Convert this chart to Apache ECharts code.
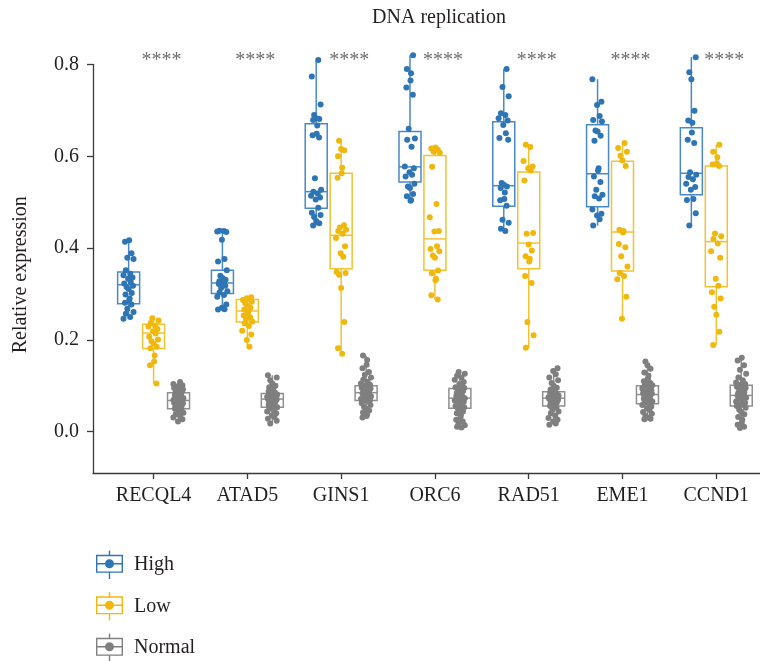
<!DOCTYPE html>
<html>
<head>
<meta charset="utf-8">
<script src="https://cdn.jsdelivr.net/npm/echarts@6/dist/echarts.min.js"></script>
<style>
  html, body { margin: 0; padding: 0; background: #ffffff; }
  #chart { width: 760px; height: 661px; }
</style>
</head>
<body>
<div id="chart"></div>
<script>
// Genes on the x axis and the three sample groups
const categories = ['RECQL4', 'ATAD5', 'GINS1', 'ORC6', 'RAD51', 'EME1', 'CCND1'];
const groups = ['High', 'Low', 'Normal'];
const significance = ['****', '****', '****', '****', '****', '****', '****'];
const yTicks = [0.0, 0.2, 0.4, 0.6, 0.8];

// Five-number summaries per gene: [min, Q1, median, Q3, max]
const highBox = [
  [0.246, 0.279, 0.320, 0.348, 0.417],
  [0.266, 0.301, 0.324, 0.352, 0.438],
  [0.449, 0.487, 0.523, 0.671, 0.810],
  [0.503, 0.544, 0.577, 0.654, 0.820],
  [0.437, 0.491, 0.536, 0.675, 0.790],
  [0.449, 0.490, 0.562, 0.669, 0.768],
  [0.447, 0.516, 0.563, 0.662, 0.816]
];
const lowBox = [
  [0.105, 0.181, 0.215, 0.234, 0.247],
  [0.185, 0.239, 0.263, 0.288, 0.293],
  [0.170, 0.355, 0.428, 0.563, 0.634],
  [0.288, 0.352, 0.420, 0.602, 0.619],
  [0.183, 0.355, 0.411, 0.566, 0.625],
  [0.246, 0.350, 0.435, 0.589, 0.629],
  [0.189, 0.316, 0.414, 0.579, 0.625]
];
const normalBox = [
  [0.022, 0.050, 0.068, 0.085, 0.108],
  [0.018, 0.053, 0.071, 0.083, 0.123],
  [0.031, 0.068, 0.085, 0.100, 0.166],
  [0.009, 0.051, 0.073, 0.094, 0.130],
  [0.015, 0.056, 0.073, 0.087, 0.138],
  [0.027, 0.061, 0.081, 0.100, 0.153],
  [0.008, 0.056, 0.079, 0.101, 0.161]
];

// Individual samples per gene
const highPoints = [
  [0.417, 0.414, 0.389, 0.379, 0.376, 0.352, 0.344, 0.341, 0.336, 0.333, 0.326, 0.323, 0.318, 0.315, 0.311, 0.302, 0.299, 0.290, 0.286, 0.281, 0.277, 0.268, 0.261, 0.257, 0.250, 0.246],
  [0.438, 0.437, 0.436, 0.435, 0.418, 0.376, 0.371, 0.352, 0.340, 0.335, 0.331, 0.328, 0.326, 0.324, 0.322, 0.318, 0.313, 0.306, 0.303, 0.298, 0.294, 0.277, 0.270, 0.267, 0.266],
  [0.810, 0.774, 0.713, 0.690, 0.683, 0.681, 0.679, 0.667, 0.649, 0.646, 0.641, 0.552, 0.527, 0.523, 0.519, 0.514, 0.510, 0.506, 0.488, 0.477, 0.472, 0.468, 0.459, 0.454, 0.449],
  [0.820, 0.790, 0.781, 0.765, 0.750, 0.734, 0.660, 0.639, 0.636, 0.621, 0.578, 0.574, 0.565, 0.560, 0.556, 0.540, 0.534, 0.531, 0.518, 0.513, 0.505, 0.503],
  [0.790, 0.751, 0.731, 0.694, 0.690, 0.683, 0.678, 0.668, 0.650, 0.640, 0.636, 0.542, 0.538, 0.534, 0.531, 0.521, 0.507, 0.504, 0.492, 0.462, 0.455, 0.442, 0.437],
  [0.768, 0.719, 0.712, 0.688, 0.679, 0.676, 0.656, 0.654, 0.645, 0.634, 0.574, 0.569, 0.556, 0.544, 0.527, 0.516, 0.513, 0.508, 0.484, 0.475, 0.471, 0.463, 0.449],
  [0.816, 0.783, 0.768, 0.699, 0.678, 0.673, 0.652, 0.636, 0.629, 0.565, 0.560, 0.555, 0.550, 0.540, 0.533, 0.527, 0.507, 0.505, 0.476, 0.449]
];
const lowPoints = [
  [0.247, 0.242, 0.237, 0.231, 0.229, 0.224, 0.219, 0.214, 0.207, 0.201, 0.197, 0.192, 0.185, 0.182, 0.166, 0.153, 0.145, 0.105],
  [0.293, 0.291, 0.289, 0.287, 0.283, 0.280, 0.275, 0.270, 0.266, 0.262, 0.257, 0.253, 0.249, 0.245, 0.240, 0.236, 0.230, 0.220, 0.212, 0.200, 0.185],
  [0.634, 0.616, 0.613, 0.600, 0.575, 0.563, 0.553, 0.450, 0.445, 0.440, 0.437, 0.431, 0.422, 0.404, 0.389, 0.381, 0.348, 0.346, 0.342, 0.313, 0.239, 0.182, 0.170],
  [0.619, 0.617, 0.614, 0.610, 0.608, 0.577, 0.496, 0.467, 0.437, 0.436, 0.404, 0.398, 0.393, 0.384, 0.379, 0.351, 0.345, 0.333, 0.330, 0.297, 0.288],
  [0.625, 0.620, 0.590, 0.578, 0.574, 0.569, 0.547, 0.433, 0.431, 0.408, 0.395, 0.382, 0.377, 0.371, 0.339, 0.324, 0.239, 0.210, 0.183],
  [0.629, 0.618, 0.610, 0.601, 0.591, 0.579, 0.440, 0.437, 0.434, 0.409, 0.402, 0.382, 0.360, 0.346, 0.339, 0.332, 0.294, 0.246],
  [0.625, 0.610, 0.598, 0.585, 0.582, 0.579, 0.432, 0.426, 0.420, 0.410, 0.393, 0.379, 0.333, 0.318, 0.304, 0.290, 0.272, 0.255, 0.218, 0.189]
];
const normalPoints = [
  [0.108, 0.104, 0.101, 0.099, 0.097, 0.095, 0.092, 0.090, 0.088, 0.086, 0.085, 0.083, 0.081, 0.079, 0.077, 0.075, 0.073, 0.071, 0.070, 0.069, 0.068, 0.067, 0.065, 0.063, 0.062, 0.060, 0.058, 0.056, 0.055, 0.053, 0.051, 0.050, 0.047, 0.044, 0.041, 0.038, 0.035, 0.031, 0.027, 0.022],
  [0.123, 0.118, 0.112, 0.105, 0.100, 0.097, 0.094, 0.091, 0.088, 0.085, 0.083, 0.081, 0.080, 0.078, 0.076, 0.075, 0.073, 0.072, 0.071, 0.070, 0.069, 0.068, 0.066, 0.064, 0.062, 0.060, 0.058, 0.056, 0.054, 0.053, 0.050, 0.047, 0.044, 0.040, 0.036, 0.032, 0.028, 0.024, 0.018],
  [0.166, 0.156, 0.146, 0.138, 0.130, 0.124, 0.118, 0.113, 0.109, 0.105, 0.102, 0.100, 0.098, 0.096, 0.094, 0.092, 0.090, 0.088, 0.086, 0.085, 0.084, 0.083, 0.081, 0.079, 0.077, 0.075, 0.073, 0.071, 0.069, 0.068, 0.065, 0.062, 0.058, 0.054, 0.050, 0.046, 0.042, 0.038, 0.034, 0.031],
  [0.130, 0.126, 0.122, 0.118, 0.113, 0.108, 0.104, 0.100, 0.097, 0.095, 0.094, 0.091, 0.088, 0.085, 0.082, 0.080, 0.078, 0.076, 0.074, 0.073, 0.072, 0.070, 0.068, 0.065, 0.062, 0.059, 0.056, 0.053, 0.051, 0.048, 0.044, 0.040, 0.036, 0.031, 0.026, 0.022, 0.018, 0.014, 0.011, 0.009],
  [0.138, 0.132, 0.125, 0.118, 0.112, 0.106, 0.100, 0.096, 0.092, 0.089, 0.087, 0.085, 0.083, 0.081, 0.079, 0.077, 0.076, 0.075, 0.074, 0.073, 0.072, 0.071, 0.069, 0.067, 0.065, 0.063, 0.061, 0.059, 0.057, 0.056, 0.052, 0.048, 0.044, 0.040, 0.035, 0.030, 0.026, 0.022, 0.018, 0.015],
  [0.153, 0.145, 0.137, 0.129, 0.122, 0.116, 0.110, 0.106, 0.103, 0.101, 0.100, 0.097, 0.094, 0.091, 0.088, 0.086, 0.084, 0.083, 0.082, 0.081, 0.080, 0.078, 0.076, 0.074, 0.072, 0.070, 0.068, 0.066, 0.063, 0.061, 0.058, 0.055, 0.051, 0.047, 0.043, 0.039, 0.035, 0.031, 0.028, 0.027],
  [0.161, 0.155, 0.145, 0.135, 0.126, 0.118, 0.112, 0.107, 0.104, 0.102, 0.101, 0.098, 0.095, 0.092, 0.089, 0.086, 0.084, 0.082, 0.080, 0.079, 0.078, 0.076, 0.074, 0.071, 0.068, 0.066, 0.063, 0.060, 0.058, 0.056, 0.052, 0.048, 0.043, 0.038, 0.032, 0.026, 0.020, 0.015, 0.011, 0.008]
];

// ---- styling / layout ----
const FONT = '"Liberation Serif", "Times New Roman", serif';
const TEXT_COLOR = '#231f20';
const AXIS_COLOR = '#3a3a3a';
const pointColors = ['#2e75b6', '#f0b80c', '#7f7f7f'];
const boxColors = ['#4a89c8', '#f2c233', '#8f8f8f'];
const DODGE = [-0.266, 0, 0.266];      // group offset inside each gene slot (x units)
const BOX_WIDTH_PX = 22;
const JITTER = 0.055;                  // half-width of the point spread (x units)
const JITTER_PATTERN = [0.1, -0.7, 0.55, -0.25, 0.95, -0.55, 0.3, -1.0, 0.75, -0.1, 0.4, -0.85, 0.85, -0.4, 0.0, 0.6, -0.6, 0.2];

const boxSets = [highBox, lowBox, normalBox];
const pointSets = [highPoints, lowPoints, normalPoints];

// Legend glyph: outlined box with whiskers, a median bar and a dot
const LEGEND_ICON = 'path://M0 4.3L27 4.3L27 22.3L0 22.3Z M1.4 5.7L1.4 20.9L25.6 20.9L25.6 5.7Z ' +
  'M1.4 12.6L25.6 12.6L25.6 14L1.4 14Z M12.8 0L14.2 0L14.2 4.3L12.8 4.3Z M12.8 22.3L14.2 22.3L14.2 28.6L12.8 28.6Z ' +
  'M9 13.3A4.5 4.5 0 1 1 18 13.3A4.5 4.5 0 1 1 9 13.3Z';

function boxRenderer(color) {
  return function (params, api) {
    const x = api.value(0);
    const pMin = api.coord([x, api.value(1)]);
    const pQ1 = api.coord([x, api.value(2)]);
    const pMed = api.coord([x, api.value(3)]);
    const pQ3 = api.coord([x, api.value(4)]);
    const pMax = api.coord([x, api.value(5)]);
    const half = BOX_WIDTH_PX / 2;
    const cx = pMed[0];
    const st = { stroke: color, lineWidth: 1.5, fill: null };
    return {
      type: 'group',
      children: [
        { type: 'line', shape: { x1: cx, y1: pMin[1], x2: cx, y2: pQ1[1] }, style: st },
        { type: 'line', shape: { x1: cx, y1: pQ3[1], x2: cx, y2: pMax[1] }, style: st },
        { type: 'rect', shape: { x: cx - half, y: pQ3[1], width: 2 * half, height: pQ1[1] - pQ3[1] }, style: st },
        { type: 'line', shape: { x1: cx - half, y1: pMed[1], x2: cx + half, y2: pMed[1] }, style: st }
      ]
    };
  };
}

const series = [];

// jittered sample points
groups.forEach((g, gi) => {
  const data = [];
  pointSets[gi].forEach((vals, ci) => {
    vals.forEach((v, k) => {
      const j = JITTER_PATTERN[(k + ci * 5 + gi * 3) % JITTER_PATTERN.length] * JITTER;
      data.push([ci + 1 + DODGE[gi] + j, v]);
    });
  });
  series.push({
    name: g,
    type: 'scatter',
    data: data,
    symbol: 'circle',
    symbolSize: 6,
    itemStyle: { color: pointColors[gi], opacity: 1 },
    clip: false,
    silent: true,
    z: 4
  });
});

// box-and-whisker glyphs
groups.forEach((g, gi) => {
  series.push({
    name: g,
    type: 'custom',
    renderItem: boxRenderer(boxColors[gi]),
    data: boxSets[gi].map((s, ci) => [ci + 1 + DODGE[gi]].concat(s)),
    encode: { x: 0, y: [1, 2, 3, 4, 5] },
    itemStyle: { color: pointColors[gi] },
    clip: false,
    silent: true,
    z: 3
  });
});

// significance marks above each gene
series.push({
  type: 'scatter',
  data: significance.map((s, ci) => ({ value: [ci + 1 + 0.085, 0.8], label: { formatter: s } })),
  symbolSize: 0,
  clip: false,
  silent: true,
  label: {
    show: true,
    position: 'inside',
    offset: [0, -4],
    fontFamily: FONT,
    fontSize: 20,
    color: '#4a4a4a'
  },
  z: 5
});

// one legend block per group, stacked down the lower-left corner
const LEGEND_TOP = 550.5;
const LEGEND_STEP = 41.5;
const legends = groups.map((name, i) => ({
  orient: 'vertical',
  left: 96,
  top: LEGEND_TOP + i * LEGEND_STEP,
  padding: 0,
  itemWidth: 27,
  itemHeight: 29,
  selectedMode: false,
  data: [{ name: name, icon: LEGEND_ICON }],
  textStyle: { fontFamily: FONT, fontSize: 20, color: TEXT_COLOR, padding: [0, 0, 0, 6] }
}));

const chart = echarts.init(document.getElementById('chart'), null, { renderer: 'canvas' });
chart.setOption({
  backgroundColor: '#ffffff',
  animation: false,
  title: {
    text: 'DNA replication',
    left: 434,
    top: 3,
    textAlign: 'center',
    textStyle: { fontFamily: FONT, fontSize: 20, fontWeight: 'normal', color: TEXT_COLOR }
  },
  legend: legends,
  grid: { left: 93, right: 0, top: 64.5, bottom: 188 },
  xAxis: {
    type: 'value',
    min: 0.354,
    max: 7.466,
    splitLine: { show: false },
    axisLine: { show: true, onZero: false, lineStyle: { color: AXIS_COLOR, width: 1.3 } },
    axisTick: { show: true, length: 6, customValues: categories.map((c, i) => i + 1), lineStyle: { color: AXIS_COLOR, width: 1.3 } },
    axisLabel: {
      customValues: categories.map((c, i) => i + 1),
      formatter: v => categories[Math.round(v) - 1],
      margin: 13,
      fontFamily: FONT,
      fontSize: 20,
      color: TEXT_COLOR
    }
  },
  yAxis: {
    type: 'value',
    min: -0.09,
    max: 0.8,
    name: 'Relative expression',
    nameLocation: 'middle',
    nameGap: 62,
    nameTextStyle: { fontFamily: FONT, fontSize: 20, color: TEXT_COLOR, padding: [0, 12, 0, 0] },
    splitLine: { show: false },
    axisLine: { show: true, onZero: false, lineStyle: { color: AXIS_COLOR, width: 1.3 } },
    axisTick: { show: true, length: 6, customValues: yTicks, lineStyle: { color: AXIS_COLOR, width: 1.3 } },
    axisLabel: {
      customValues: yTicks,
      formatter: v => v.toFixed(1),
      margin: 14,
      fontFamily: FONT,
      fontSize: 20,
      color: TEXT_COLOR
    }
  },
  series: series
});
</script>
</body>
</html>
